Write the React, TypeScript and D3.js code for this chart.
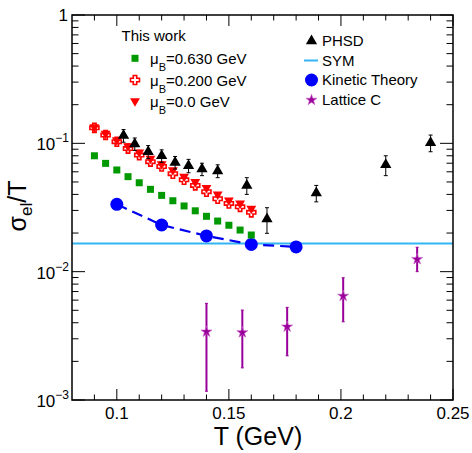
import * as d3 from "d3";

// this work, three baryon chemical potentials
const tWork = [0.09, 0.095, 0.1, 0.105, 0.11, 0.115, 0.12, 0.125, 0.13, 0.135, 0.14, 0.145, 0.15, 0.155, 0.16];
const mu630 = [0.08, 0.0698, 0.062, 0.055, 0.0493, 0.0438, 0.0393, 0.0357, 0.0325, 0.0298, 0.027, 0.0248, 0.023, 0.0211, 0.0193];
const mu200 = [0.132, 0.116, 0.103, 0.091, 0.081, 0.072, 0.066, 0.058, 0.052, 0.047, 0.042, 0.037, 0.034, 0.032, 0.029];
const mu0 = [0.134, 0.119, 0.106, 0.095, 0.085, 0.076, 0.069, 0.062, 0.055, 0.05, 0.045, 0.04, 0.036, 0.034, 0.031];

// PHSD
const tPhsd = [0.103, 0.108, 0.114, 0.12, 0.126, 0.132, 0.138, 0.145, 0.158, 0.167, 0.189, 0.22, 0.24];
const phsd = [0.115, 0.099, 0.086, 0.08, 0.071, 0.067, 0.063, 0.061, 0.047, 0.0257, 0.041, 0.068, 0.101];
const phsdErr = [0.013, 0.011, 0.01, 0.009, 0.008, 0.008, 0.007, 0.007, 0.007, 0.0058, 0.006, 0.012, 0.015];

// SYM
const symValue = 0.0166;

// kinetic theory
const tKin = [0.1, 0.12, 0.14, 0.16, 0.18];
const kin = [0.0335, 0.0231, 0.019, 0.0163, 0.0156];

// lattice
const tLat = [0.14, 0.156, 0.176, 0.201, 0.234];
const lat = [0.0034, 0.00336, 0.00372, 0.00646, 0.0125];
const latLo = [0.00117, 0.00178, 0.00221, 0.00407, 0.01];
const latHi = [0.00566, 0.00502, 0.00527, 0.00897, 0.0155];

const xTicks = [0.1, 0.15, 0.2, 0.25];
const xTickLabels = ["0.1", "0.15", "0.2", "0.25"];
const yDecades = [1, 0.1, 0.01, 0.001];
const yExps = ["", "\u22121", "\u22122", "\u22123"];

const W = 472;
const H = 453;
const L = 72, R = 453, T = 15, B = 400;
const font = "'Liberation Sans', Arial, Helvetica, sans-serif";

const x = d3.scaleLinear().domain([0.08, 0.25]).range([L, R]);
const y = d3.scaleLog().domain([0.001, 1]).range([B, T]);

const triUp = d3.symbol(d3.symbolTriangle, 55)()!;
const triDown = d3.symbol(d3.symbolTriangle, 42)()!;
const star = d3.symbol(d3.symbolStar, 38)()!;
const crossPath = "M-1.7,-4.5H1.7V-1.7H4.5V1.7H1.7V4.5H-1.7V1.7H-4.5V-1.7H-1.7Z";

export default function App() {
  const minorX = d3.range(9, 25).map((d) => d / 100).filter((d) => !xTicks.some((t) => Math.abs(t - d) < 1e-6));
  const minorY: number[] = [];
  [0.001, 0.01, 0.1].forEach((dec) => {
    for (let k = 2; k <= 9; k++) minorY.push(dec * k);
  });

  const kinLine = d3
    .line<number>()
    .x((_, i) => x(tKin[i]))
    .y((d) => y(d));

  return (
    <svg width={W} height={H} style={{ position: "absolute", left: 0, top: 0, background: "#fff" }} fontFamily={font}>
      <rect x={0} y={0} width={W} height={H} fill="#fff" />

      {/* ticks */}
      <g stroke="#000" strokeWidth={1}>
        {xTicks.map((t) => (
          <g key={"xt" + t}>
            <line x1={x(t)} x2={x(t)} y1={B} y2={B - 11} />
            <line x1={x(t)} x2={x(t)} y1={T} y2={T + 11} />
          </g>
        ))}
        {minorX.map((t) => (
          <g key={"xm" + t}>
            <line x1={x(t)} x2={x(t)} y1={B} y2={B - 5.5} />
            <line x1={x(t)} x2={x(t)} y1={T} y2={T + 5.5} />
          </g>
        ))}
        {yDecades.map((d) => (
          <g key={"yt" + d}>
            <line x1={L} x2={L + 13} y1={y(d)} y2={y(d)} />
            <line x1={R} x2={R - 13} y1={y(d)} y2={y(d)} />
          </g>
        ))}
        {minorY.map((d) => (
          <g key={"ym" + d}>
            <line x1={L} x2={L + 6.5} y1={y(d)} y2={y(d)} />
            <line x1={R} x2={R - 6.5} y1={y(d)} y2={y(d)} />
          </g>
        ))}
      </g>

      {/* SYM */}
      <line x1={L} x2={R} y1={y(symValue)} y2={y(symValue)} stroke="#33b5f5" strokeWidth={2} />

      {/* lattice */}
      <g stroke="#990099" fill="#990099">
        {tLat.map((t, i) => (
          <g key={"lat" + i}>
            <line x1={x(t)} x2={x(t)} y1={y(latLo[i])} y2={y(latHi[i])} strokeWidth={2} />
            <line x1={x(t) - 1.5} x2={x(t) + 1.5} y1={y(latLo[i])} y2={y(latLo[i])} strokeWidth={1} />
            <line x1={x(t) - 1.5} x2={x(t) + 1.5} y1={y(latHi[i])} y2={y(latHi[i])} strokeWidth={1} />
            <path d={star} transform={`translate(${x(t)},${y(lat[i])})`} stroke="#cc66cc" strokeWidth={0.6} />
          </g>
        ))}
      </g>

      {/* kinetic theory */}
      <path d={kinLine(kin) ?? ""} fill="none" stroke="#0000ee" strokeWidth={2.2} strokeDasharray="11,6" />
      {tKin.map((t, i) => (
        <circle key={"kin" + i} cx={x(t)} cy={y(kin[i])} r={6.5} fill="#0000ff" />
      ))}

      {/* this work */}
      {tWork.map((t, i) => (
        <rect key={"g" + i} x={x(t) - 3.5} y={y(mu630[i]) - 3.5} width={7} height={7} fill="#009900" />
      ))}
      {tWork.map((t, i) => (
        <path key={"c" + i} d={crossPath} transform={`translate(${x(t)},${y(mu200[i])})`} fill="#fff" stroke="#ff0000" strokeWidth={1.6} />
      ))}
      {tWork.map((t, i) => (
        <path key={"r" + i} d={triDown} transform={`translate(${x(t)},${y(mu0[i])}) rotate(180)`} fill="#ff0000" />
      ))}

      {/* PHSD */}
      <g stroke="#000" strokeWidth={1}>
        {tPhsd.map((t, i) => (
          <g key={"p" + i}>
            <line x1={x(t)} x2={x(t)} y1={y(phsd[i] - phsdErr[i])} y2={y(phsd[i] + phsdErr[i])} />
            <line x1={x(t) - 2} x2={x(t) + 2} y1={y(phsd[i] - phsdErr[i])} y2={y(phsd[i] - phsdErr[i])} />
            <line x1={x(t) - 2} x2={x(t) + 2} y1={y(phsd[i] + phsdErr[i])} y2={y(phsd[i] + phsdErr[i])} />
            <path d={triUp} transform={`translate(${x(t)},${y(phsd[i])})`} fill="#000" stroke="none" />
          </g>
        ))}
      </g>

      {/* frame */}
      <rect x={L} y={T} width={R - L} height={B - T} fill="none" stroke="#000" strokeWidth={1.5} />

      {/* x tick labels */}
      {xTicks.map((t, i) => (
        <text key={"xl" + t} x={x(t)} y={418.5} fontSize={17} textAnchor="middle">
          {xTickLabels[i]}
        </text>
      ))}
      <text x={258} y={445} fontSize={25} textAnchor="middle">T (GeV)</text>

      {/* y tick labels */}
      {yDecades.map((d, i) =>
        i === 0 ? (
          <text key="yl1" x={68} y={y(d) + 6} fontSize={17} textAnchor="end">1</text>
        ) : (
          <text key={"yl" + d} x={69} y={y(d) + 7} fontSize={17} textAnchor="end">
            10
            <tspan fontSize={12} dy={-8}>{yExps[i]}</tspan>
          </text>
        )
      )}
      <text transform="translate(26,206) rotate(-90)" fontSize={25} textAnchor="middle">
        σ<tspan fontSize={17} dy={6}>el</tspan>
        <tspan dy={-6}>/T</tspan>
      </text>

      {/* legend left */}
      <g fontSize={15}>
        <text x={121.5} y={41}>This work</text>
        <rect x={131.5} y={54.8} width={7} height={7} fill="#009900" />
        <path d={crossPath} transform="translate(135,80)" fill="#fff" stroke="#ff0000" strokeWidth={1.6} />
        <path d={triDown} transform="translate(135,101) rotate(180)" fill="#ff0000" />
        {["0.630 GeV", "0.200 GeV", "0.0 GeV"].map((s, i) => (
          <text key={"lg" + i} x={150} y={64 + i * 21.5}>
            μ<tspan fontSize={11} dy={7}>B</tspan>
            <tspan dy={-7}>={s}</tspan>
          </text>
        ))}
      </g>

      {/* legend right */}
      <g fontSize={15}>
        <path d={triUp} transform="translate(311.5,41)" fill="#000" />
        <text x={322} y={46}>PHSD</text>
        <line x1={304} x2={318} y1={60.5} y2={60.5} stroke="#33b5f5" strokeWidth={2} />
        <text x={322} y={65.5}>SYM</text>
        <circle cx={311.5} cy={80} r={6.5} fill="#0000ff" />
        <text x={322} y={85}>Kinetic Theory</text>
        <path d={star} transform="translate(311.5,100)" fill="#990099" stroke="#cc66cc" strokeWidth={0.6} />
        <text x={322} y={104.5}>Lattice C</text>
      </g>
    </svg>
  );
}
